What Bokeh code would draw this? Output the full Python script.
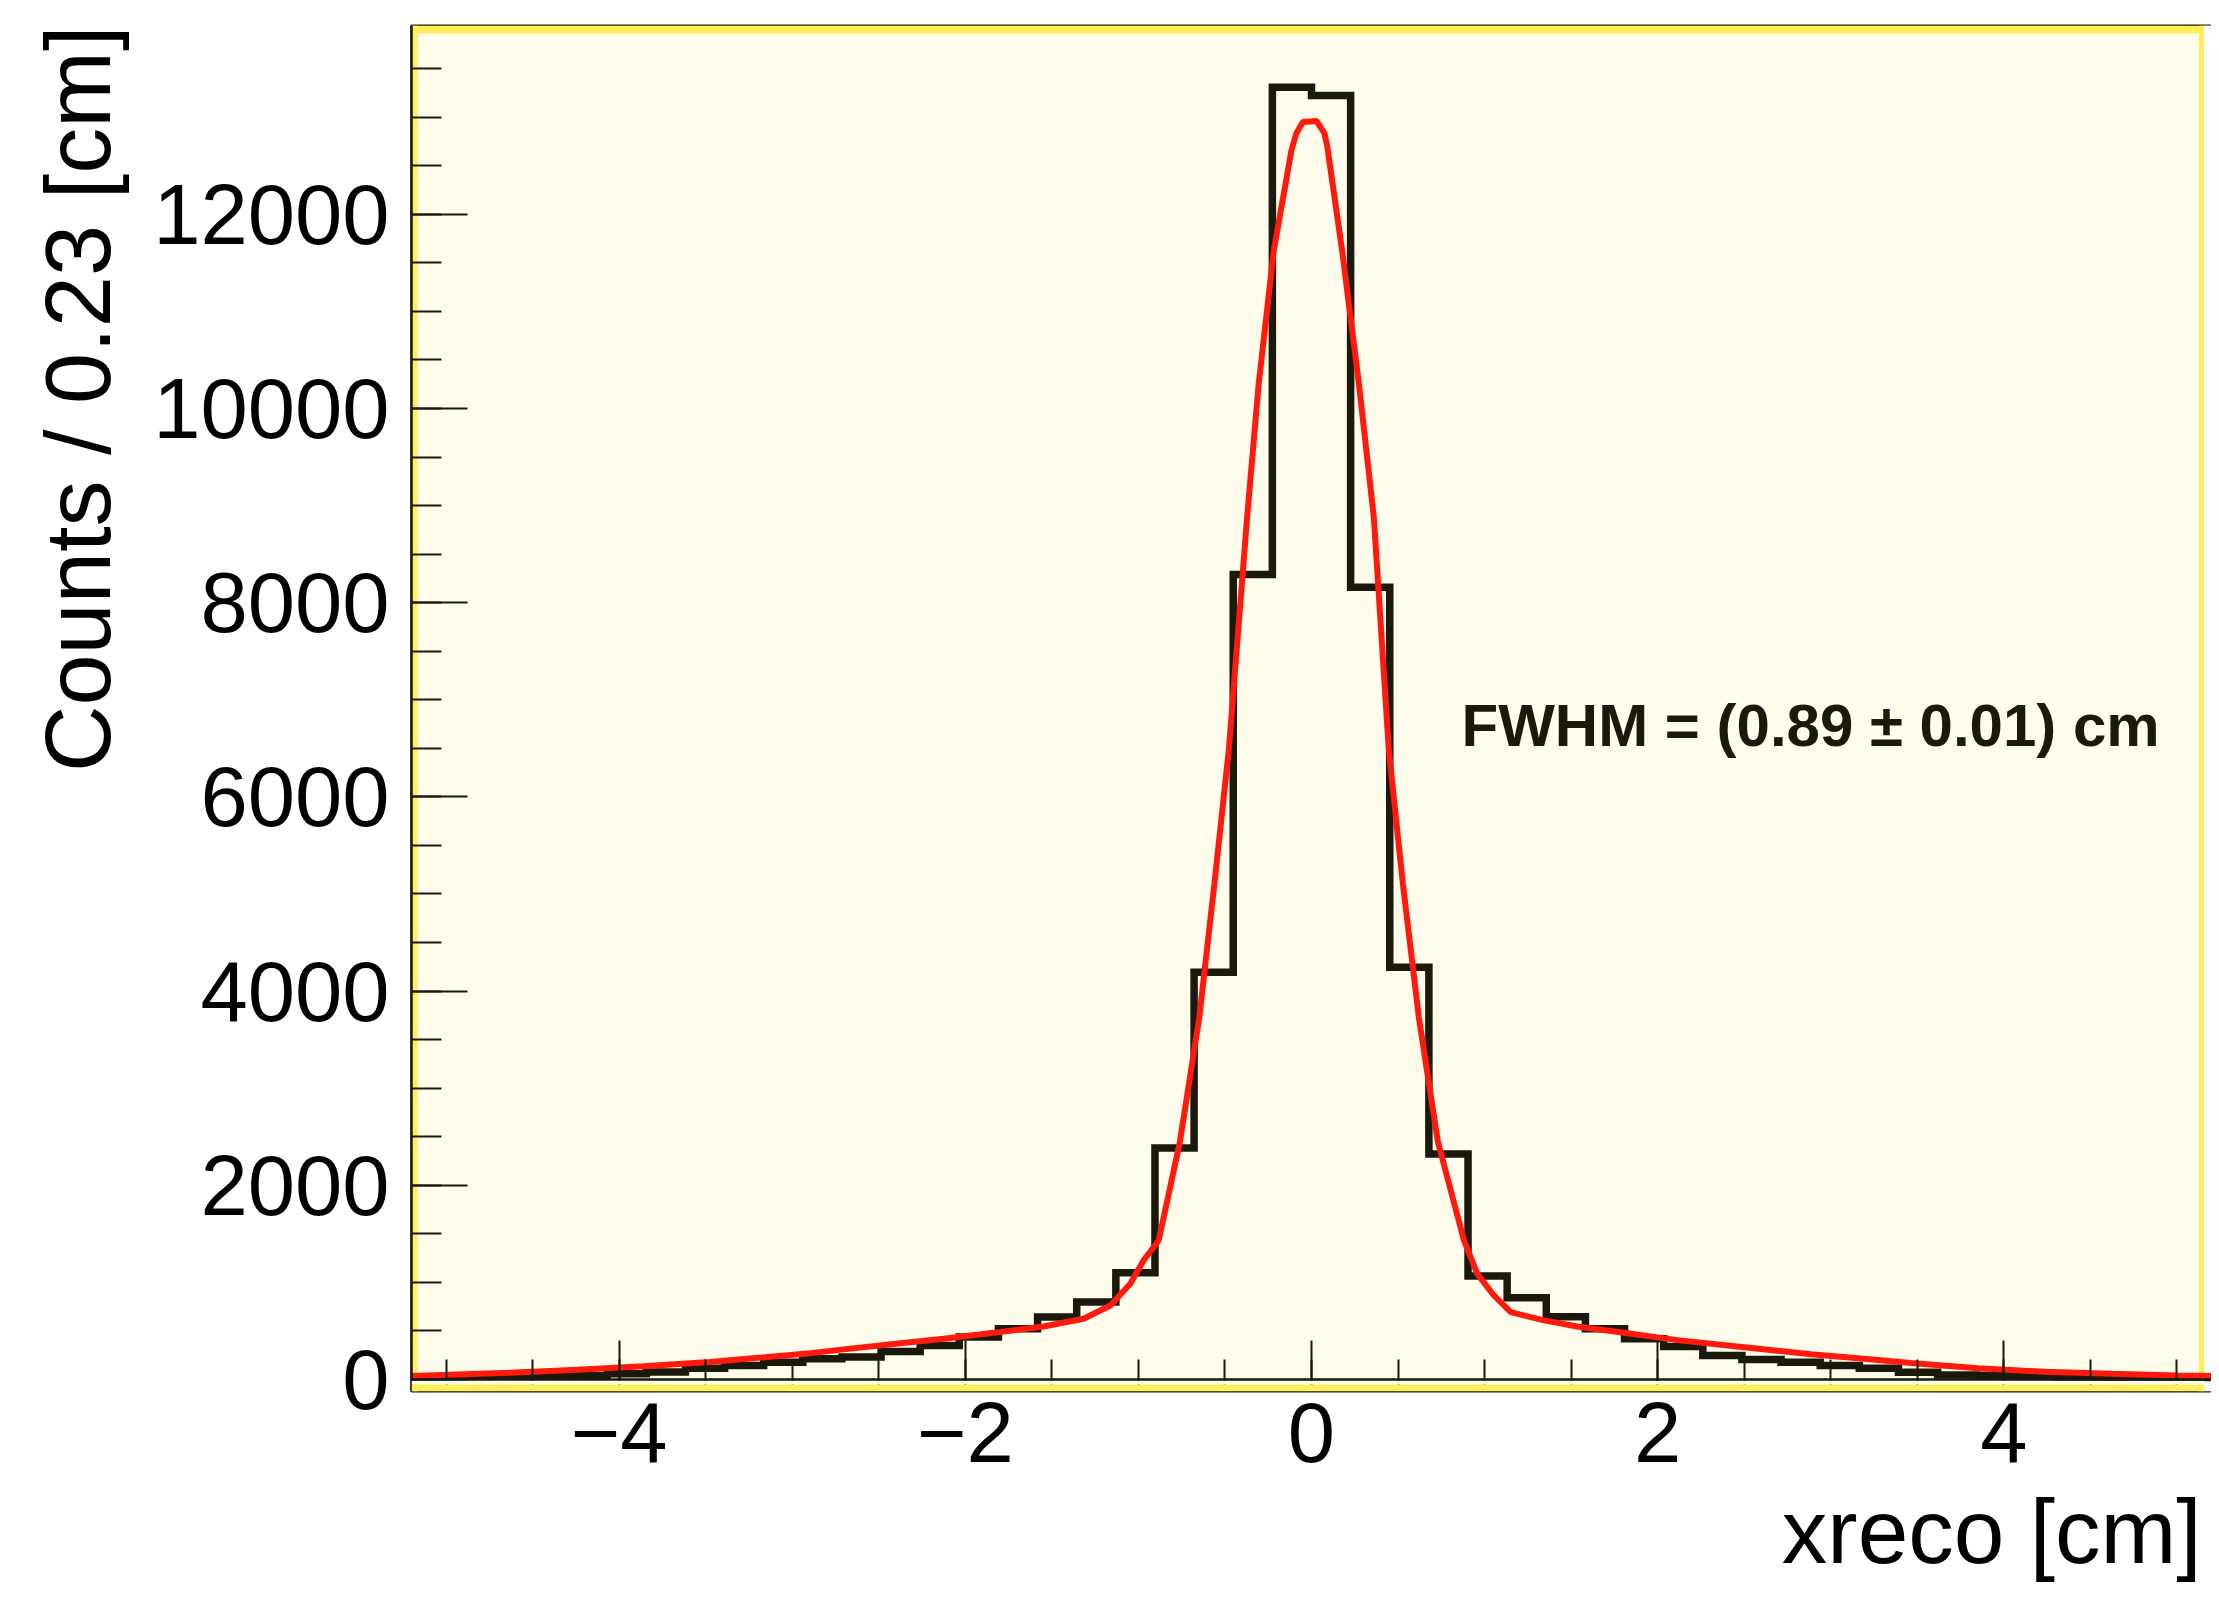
from bokeh.plotting import figure
from bokeh.models import Range1d, SingleIntervalTicker, BoxAnnotation, Label, Span, Title
from bokeh.embed import file_html
from bokeh.resources import INLINE

# ---------------- data ----------------
X_MIN, X_MAX = -5.2, 5.2          # histogram range [cm]
N_BINS = 46                        # bin width ~0.23 cm
counts = [28, 30, 32, 40, 42, 58, 78, 116, 144, 178,
          213, 232, 289, 350, 436, 522, 642, 797, 1100, 2385,
          4195, 8290, 13309, 13223, 8160, 4246, 2323, 1065, 842, 646,
          522, 420, 340, 247, 206, 178, 144, 116, 75, 45,
          40, 30, 25, 22, 22, 20]

fit_x = [-5.2, -4.63, -4.24, -3.86, -3.475, -3.18, -2.897, -2.704, -2.415, -2.126,
         -1.837, -1.548, -1.317, -1.162, -1.047, -0.970, -0.883, -0.76, -0.648, -0.561,
         -0.478, -0.372, -0.305, -0.218, -0.116, -0.088, -0.05, 0.03, 0.075, 0.091,
         0.177, 0.274, 0.360, 0.447, 0.528, 0.620, 0.73, 0.881, 0.958, 1.054,
         1.151, 1.343, 1.536, 1.825, 2.114, 2.404, 2.693, 2.886, 3.175, 3.464,
         3.849, 4.234, 4.62, 5.005, 5.2]
fit_y = [35, 70, 100, 135, 180, 225, 270, 310, 365, 420,
         480, 545, 625, 762, 986, 1226, 1431, 2450, 3731, 5105,
         6478, 8881, 10254, 11627, 12657, 12832, 12950, 12960, 12832, 12700,
         11627, 10254, 8881, 6478, 5105, 3731, 2450, 1431, 1088, 865,
         693, 608, 545, 475, 405, 350, 295, 260, 215, 170,
         115, 80, 58, 42, 35]

x_title = "xreco [cm]"
y_title = "Counts / 0.23 [cm]"
fit_text = "FWHM = (0.89 \u00b1 0.01) cm"
x_label_overrides = {-4: "\u22124", -2: "\u22122"}

Y_START, Y_END = -124, 13944

# ---------------- styling ----------------
CREAM = "#fffcec"
YELLOW = "#ffef5a"
DARK = "#1b190b"
RED = "#ff1a0d"
FONT = "Liberation Sans"

W, H = 2211, 1608
FRAME_L, FRAME_R, FRAME_T, FRAME_B = 411, 2211, 25, 1391   # canvas px
px_per_x = (FRAME_R - FRAME_L) / (X_MAX - X_MIN)
px_per_y = (FRAME_B - FRAME_T) / (Y_END - Y_START)

p = figure(width=W, height=H, x_range=Range1d(X_MIN, X_MAX), y_range=Range1d(Y_START, Y_END),
           output_backend="svg", toolbar_location=None,
           min_border_left=FRAME_L, min_border_right=W - FRAME_R,
           min_border_top=FRAME_T, min_border_bottom=H - FRAME_B)

p.background_fill_color = CREAM
p.border_fill_color = "white"
p.outline_line_color = DARK
p.outline_line_width = 2
p.xgrid.visible = False
p.ygrid.visible = False


def dx(px):
    return px / px_per_x


def dy(px):
    return px / px_per_y


# frame decorations (yellow border of the ROOT frame)
p.add_layout(BoxAnnotation(left=X_MIN, right=X_MIN + dx(6), bottom=Y_START, top=Y_END,
                           fill_color=YELLOW, fill_alpha=1, line_alpha=0, level="underlay"))
p.add_layout(BoxAnnotation(left=X_MIN, right=X_MAX, bottom=Y_END - dy(8), top=Y_END,
                           fill_color=YELLOW, fill_alpha=1, line_alpha=0, level="underlay"))
p.add_layout(BoxAnnotation(left=X_MAX - dx(12.5), right=X_MAX - dx(7.5), bottom=Y_START, top=Y_END,
                           fill_color=YELLOW, fill_alpha=1, line_alpha=0, level="underlay"))
p.add_layout(BoxAnnotation(left=X_MAX - dx(7.5), right=X_MAX, bottom=Y_START, top=Y_END,
                           fill_color="white", fill_alpha=1, line_alpha=0, level="underlay"))

# histogram
bw = (X_MAX - X_MIN) / N_BINS
edges = [X_MIN + i * bw for i in range(N_BINS + 1)]
p.step(x=edges, y=counts + [counts[-1]], mode="after", line_width=7.5, line_color=DARK,
       line_join="miter")

# fit curve
p.line(fit_x, fit_y, line_width=6, line_color=RED)

# strip below the zero line (cream gap + yellow band), over the tick roots
p.add_layout(BoxAnnotation(left=X_MIN, right=X_MAX - dx(7.5), bottom=-dy(5), top=-dy(1.4),
                           fill_color=CREAM, fill_alpha=1, line_alpha=0, level="annotation"))
p.add_layout(BoxAnnotation(left=X_MIN, right=X_MAX - dx(7.5), bottom=Y_START, top=-dy(5),
                           fill_color=YELLOW, fill_alpha=1, line_alpha=0, level="annotation"))
# x axis line at zero
p.add_layout(Span(location=0, dimension="width", line_color=DARK, line_width=2.5))

# axes
xa = p.xaxis[0]
xa.ticker = SingleIntervalTicker(interval=2, num_minor_ticks=4)
xa.major_label_overrides = x_label_overrides
xa.axis_line_alpha = 0
ya = p.yaxis[0]
ya.ticker = SingleIntervalTicker(interval=2000, num_minor_ticks=4)

for ax, maj, mnr, so in ((xa, 51, 32, 11), (ya, 56, 30, 22)):
    ax.axis_line_color = DARK
    ax.axis_line_width = 2.5
    ax.major_tick_line_color = DARK
    ax.minor_tick_line_color = DARK
    ax.major_tick_line_width = 2
    ax.minor_tick_line_width = 2
    ax.major_tick_in = maj
    ax.major_tick_out = 0
    ax.minor_tick_in = mnr
    ax.minor_tick_out = 0
    ax.major_label_standoff = so
    ax.major_label_text_font = FONT
    ax.major_label_text_font_size = "85px"
    ax.major_label_text_color = "black"

# axis titles (ROOT style: aligned to the end of each axis)
p.add_layout(Title(text=y_title, align="right", standoff=44, text_font=FONT,
                   text_font_size="92px", text_font_style="normal", text_color="black"), "left")
p.add_layout(Title(text=x_title, align="right", vertical_align="bottom", offset=10, standoff=28,
                   text_font=FONT, text_font_size="91px", text_font_style="normal",
                   text_color="black"), "below")

# fit result
p.add_layout(Label(x=0.867, y=6731, text=fit_text, text_align="left", text_baseline="alphabetic",
                   text_font=FONT, text_font_style="bold", text_font_size="60px",
                   text_color=DARK))

open("out.html", "w").write(file_html(p, INLINE))
